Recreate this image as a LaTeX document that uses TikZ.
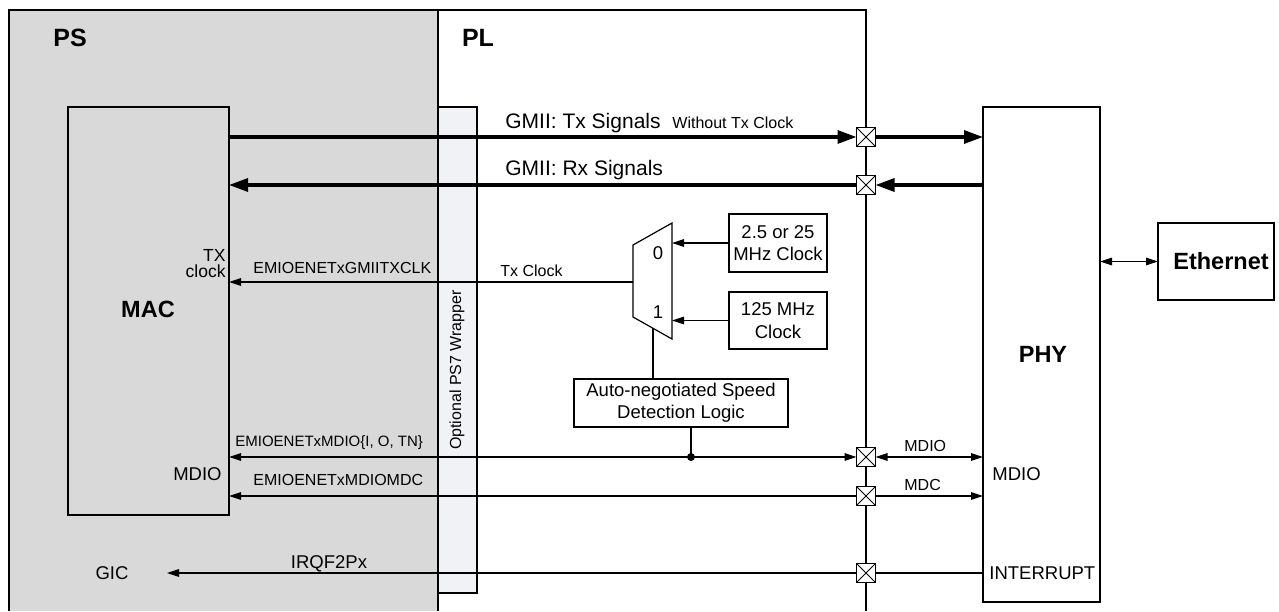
\documentclass[tikz,border=0pt]{standalone}
\usepackage{fontspec}
\setmainfont{Liberation Sans}
\usetikzlibrary{arrows.meta,positioning}

\definecolor{psgray}{HTML}{D9D9D9}
\definecolor{wrapfill}{HTML}{F1F2F5}

\begin{document}
\begin{tikzpicture}[x=0.5pt, y=-0.5pt,
  region/.style={draw=black, line width=1.25pt},
  box/.style={draw=black, fill=white, rectangle, line width=0.6pt, inner sep=0pt,
    outer sep=0pt, align=center},
  pad/.style={draw=black, fill=white, rectangle, line width=0.6pt, minimum size=9.5pt,
    inner sep=0pt, outer sep=0pt,
    path picture={\draw[line width=0.4pt]
      (path picture bounding box.south west) -- (path picture bounding box.north east)
      (path picture bounding box.north west) -- (path picture bounding box.south east);}},
  lbl/.style={inner sep=0pt, font=\fontsize{9.25}{11.25}\selectfont},
  sig/.style={inner sep=0pt, font=\fontsize{8}{9}\selectfont},
  gmii/.style={inner sep=0pt, font=\fontsize{10.5}{12}\selectfont},
  hdr/.style={inner sep=0pt, font=\bfseries\fontsize{11.75}{13}\selectfont},
  ttl/.style={inner sep=0pt, font=\bfseries\fontsize{12.5}{14}\selectfont},
  thin/.style={line width=0.6pt},
  bus/.style={line width=1.6pt},
  arr/.style={-{Triangle[length=6pt,width=3.8pt]}},
  arrboth/.style={{Triangle[length=6pt,width=3.8pt]}-{Triangle[length=6pt,width=3.8pt]}},
  busarr/.style={-{Triangle[length=9.5pt,width=6.5pt]}},
]
\useasboundingbox (0,0) rectangle (1279,611);

%--- PS / PL regions ---
\fill[psgray] (9,10) rectangle (438,611);
\draw[region] (9,611) -- (9,10) -- (866,10) -- (866,611);
\draw[region] (438,10) -- (438,611);
\node[ttl] (ps) at (70,38) {PS};
\node[ttl] (pl) at (478,38) {PL};

%--- Blocks ---
\node[box, fill=psgray, minimum width=80.5pt, minimum height=204pt] (mac) at (148.5,311) {};
\node[hdr] (maclbl) at (148,309) {MAC};
\node[box, fill=wrapfill, line width=1pt, minimum width=19.5pt, minimum height=243pt] (wrap) at (457.5,350) {};
\node[sig, rotate=90] (wraplbl) at (457,370) {Optional PS7 Wrapper};
\node[box, minimum width=58.5pt, minimum height=247.5pt] (phy) at (1041.5,354.5) {};
\node[hdr] (phylbl) at (1043,354) {PHY};
\node[box, minimum width=58pt, minimum height=38.5pt, font=\bfseries\fontsize{11.75}{13}\selectfont] (eth) at (1216,261.5) {\hspace*{5pt}Ethernet};
\node[box, lbl, minimum width=49pt, minimum height=29pt] (clkA) at (778,243) {2.5 or 25\\MHz Clock};
\node[box, lbl, minimum width=49pt, minimum height=28.5pt] (clkB) at (778,320.5) {125 MHz\\Clock};
\node[box, lbl, font=\fontsize{9.25}{11}\selectfont, minimum width=107pt, minimum height=24pt] (speed) at (681,403) {Auto-negotiated Speed\\Detection Logic};

%--- Mux ---
\draw[thin, fill=white] (633,245) -- (672,223) -- (672,339) -- (633,317) -- cycle;
\coordinate (muxOut) at (633,282);
\coordinate (muxIn0) at (672,243);
\coordinate (muxIn1) at (672,321);
\coordinate (muxSel) at (653,328);
\node[lbl] (sel0) at (658,253) {0};
\node[lbl] (sel1) at (658,312) {1};

%--- Pads on PL boundary ---
\node[pad] (pTx)   at (866,137) {};
\node[pad] (pRx)   at (866,185) {};
\node[pad] (pMdio) at (866,457) {};
\node[pad] (pMdc)  at (866,496) {};
\node[pad] (pInt)  at (866,573) {};
\coordinate (mdioTap) at (691,457);
\coordinate (gicIn) at (167,573);

%--- GMII buses ---
\draw[bus, busarr] (mac.east |- pTx) -- (pTx.west);
\draw[bus, busarr] (pTx.east) -- (phy.west |- pTx);
\draw[bus, busarr] (phy.west |- pRx) -- (pRx.east);
\draw[bus, busarr] (pRx.west) -- (mac.east |- pRx);
\node[gmii, anchor=base west] (txlbl) at (505,128) {GMII: Tx Signals};
\node[sig, anchor=base west] (txnote) at (672,128) {Without Tx Clock};
\node[gmii, anchor=base west] (rxlbl) at (505,175) {GMII: Rx Signals};

%--- Tx clock ---
\draw[thin, arr] (clkA.west) -- (clkA.west -| muxIn0);
\draw[thin, arr] (clkB.west) -- (clkB.west -| muxIn1);
\draw[thin, arr] (muxOut) -- (mac.east |- muxOut);
\draw[thin] (muxSel) -- (muxSel |- speed.north);
\node[sig, anchor=base west] (txclk) at (500,276) {Tx Clock};
\node[sig, anchor=base west] (gmiitxclk) at (253,273) {EMIOENETxGMIITXCLK};
\node[lbl, align=right, anchor=base east, font=\fontsize{8.75}{8}\selectfont] (txclock) at (226,277) {TX\\clock};

%--- MDIO / MDC ---
\draw[thin] (speed.south -| mdioTap) -- (mdioTap);
\fill (mdioTap) circle (2pt);
\draw[thin, arrboth] (mac.east |- pMdio) -- (pMdio.west);
\draw[thin, arrboth] (pMdio.east) -- (phy.west |- pMdio);
\draw[thin, arr] (pMdc.west) -- (mac.east |- pMdc);
\draw[thin, arr] (pMdc.east) -- (phy.west |- pMdc);
\node[sig, anchor=base west, font=\fontsize{7.5}{9}\selectfont] (mdiosig) at (235,446) {EMIOENETxMDIO\{I, O, TN\}};
\node[sig, anchor=base west] (mdcsig) at (253,485) {EMIOENETxMDIOMDC};
\node[lbl, anchor=east] (macmdio) at (222,474) {MDIO};
\node[sig, anchor=base west] (mdiopin) at (904,451) {MDIO};
\node[sig, anchor=base west] (mdcpin) at (904,490) {MDC};
\node[lbl, anchor=west] (phymdio) at (992,474) {MDIO};

%--- Interrupt ---
\draw[thin] (phy.west |- pInt) -- (pInt.east);
\draw[thin, arr] (pInt.west) -- (gicIn);
\node[lbl] (gic) at (112,573) {GIC};
\node[lbl, anchor=base] (irq) at (329,568) {IRQF2Px};
\node[lbl, anchor=west] (phyint) at (989,573) {INTERRUPT};

%--- Ethernet ---
\draw[thin, arrboth] (phy.east |- eth) -- (eth.west);

\end{tikzpicture}
\end{document}
